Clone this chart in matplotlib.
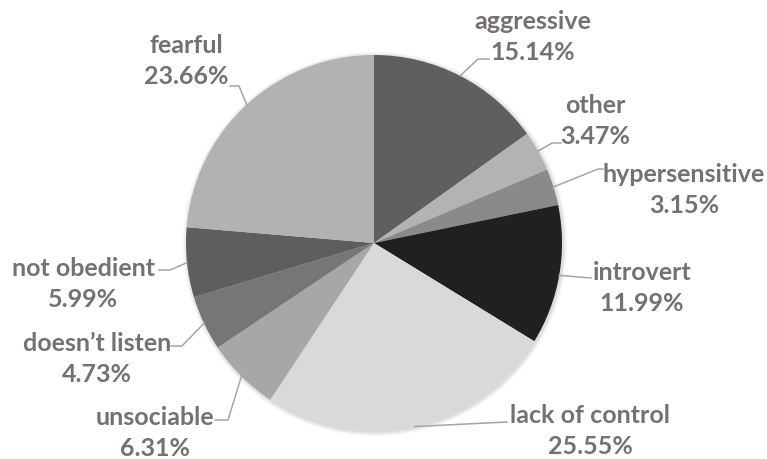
import numpy as np
import matplotlib
matplotlib.use("Agg")
import matplotlib.pyplot as plt
from matplotlib.patches import Circle

categories = ["aggressive", "other", "hypersensitive", "introvert", "lack of control",
              "unsociable", "doesn\u2019t listen", "not obedient", "fearful"]
shares = [15.14, 3.47, 3.15, 11.99, 25.55, 6.31, 4.73, 5.99, 23.66]
colors = ["#5f5f5f", "#b3b3b3", "#8a8a8a", "#202020", "#dad9d8",
          "#a6a7a6", "#767676", "#5e5e5e", "#b2b2b2"]

W, H = 767, 460
cx, cy, R = 374, 244, 188

# label block centres and leader-line bends, in pixel coords (y down)
label_pos = [(533, 37), (595, 121), (684, 190), (642, 288), (590, 431),
             (155, 433), (97, 359), (83, 284), (186, 61)]
bends = [[(478, 60), (489, 60)],
         [(552, 144), (561, 144)],
         [(598, 170), (603, 170)],
         [(591, 279)],
         [(507, 423)],
         [(228, 421), (215, 421)],
         [(182, 347), (171, 347)],
         [(170, 271), (159, 271)],
         [(239, 87), (230, 87)]]

plt.rcParams['font.family'] = ['Lato', 'DejaVu Sans']

fig = plt.figure(figsize=(W / 100, H / 100), dpi=100)
ax = fig.add_axes([0, 0, 1, 1])

# soft shadow under the pie
for dr, a in [(4, 0.15), (2.5, 0.25), (1, 0.4)]:
    ax.add_patch(Circle((cx + 1, H - cy - 1), R + dr, color="#c8c8c8", alpha=a, lw=0, zorder=0))

wedges, _ = ax.pie(shares, colors=colors, startangle=90, counterclock=False,
                   center=(cx, H - cy), radius=R,
                   wedgeprops=dict(linewidth=0))
for w in wedges:
    w.set_zorder(2)

cum = np.cumsum([0] + shares[:-1])
for i, name in enumerate(categories):
    mid = 90 - (cum[i] + shares[i] / 2) * 3.6
    ex = cx + R * np.cos(np.radians(mid))
    ey = cy - R * np.sin(np.radians(mid))
    pts = [(ex, ey)] + bends[i]
    ax.plot([p[0] for p in pts], [H - p[1] for p in pts], color="#a5a5a5", lw=1.1, zorder=3)
    tx, ty = label_pos[i]
    ax.text(tx, H - ty, f"{name}\n{shares[i]:.2f}%", ha="center", va="center",
            multialignment="center", fontsize=18, fontweight="bold",
            color="#767171", linespacing=1.45, zorder=4)

ax.set_xlim(0, W)
ax.set_ylim(0, H)
ax.set_aspect("auto")
ax.axis("off")

fig.savefig("out.png", dpi=100, facecolor="white")
